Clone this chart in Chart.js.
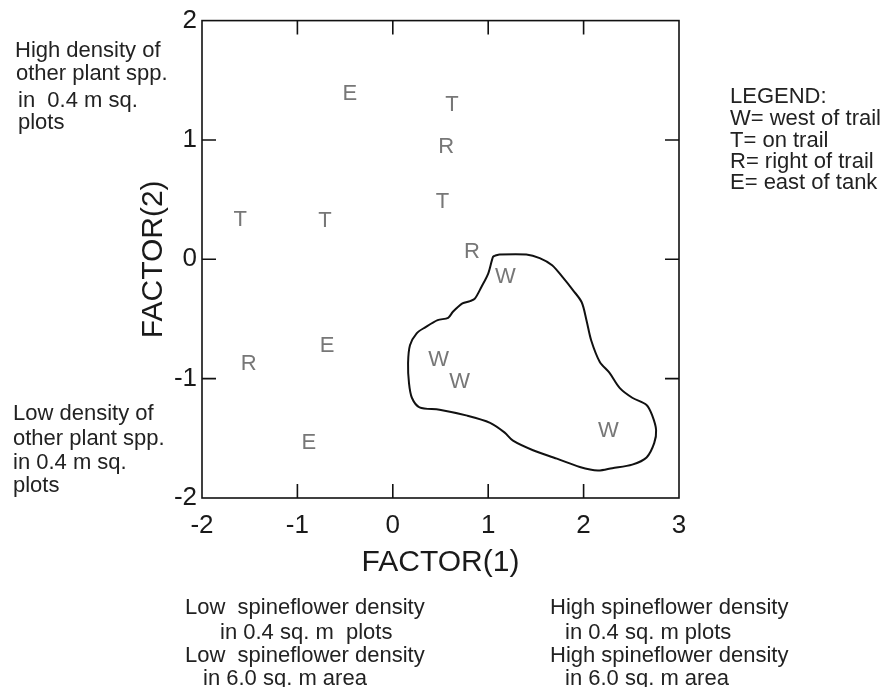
<!DOCTYPE html>
<html><head><meta charset="utf-8">
<script src="https://cdn.jsdelivr.net/npm/chart.js@4/dist/chart.umd.min.js"></script>
<style>
html,body{margin:0;padding:0;background:#fff;width:883px;height:687px;overflow:hidden}
#wrap{position:relative;width:883px;height:687px}
canvas{position:absolute;left:0;top:0}
.t{position:absolute;font-family:"Liberation Sans",Arial,sans-serif;color:#222;white-space:pre;line-height:24px;font-size:22px}
</style></head><body>
<div id="wrap"><canvas id="c" width="883" height="687"></canvas></div>
<script>
// ---- data ----
const siteCodes = ['E','T','R','T','T','T','R','W','E','R','W','W','W','E'];
const factor1   = [-0.45, 0.62, 0.56, 0.52, -1.60, -0.71, 0.83, 1.18, -0.69, -1.51, 0.48, 0.70, 2.26, -0.88];
const factor2   = [ 1.40, 1.31, 0.96, 0.50,  0.35,  0.34, 0.075, -0.13, -0.71, -0.86, -0.825, -1.01, -1.42, -1.52];

const contourX = [1.07,1.12,1.40,1.54,1.67,1.78,1.89,1.98,2.03,2.08,2.17,2.27,2.38,2.51,2.66,2.72,2.76,2.74,2.66,2.51,2.30,2.15,1.96,1.72,1.47,1.26,1.17,1.02,0.78,0.49,0.28,0.20,0.17,0.16,0.18,0.25,0.34,0.47,0.58,0.63,0.73,0.81,0.86,0.93,1.00,1.05,1.07];
const contourY = [0.03,0.04,0.04,0.01,-0.05,-0.15,-0.26,-0.36,-0.51,-0.68,-0.86,-0.95,-1.08,-1.16,-1.22,-1.31,-1.43,-1.54,-1.66,-1.72,-1.75,-1.77,-1.74,-1.67,-1.60,-1.52,-1.45,-1.37,-1.31,-1.26,-1.24,-1.16,-1.04,-0.87,-0.72,-0.62,-0.57,-0.51,-0.49,-0.44,-0.37,-0.35,-0.33,-0.23,-0.12,0.02,0.03];

const xAxisMin = -2, xAxisMax = 3, yAxisMin = -2, yAxisMax = 2;
const xTitle = 'FACTOR(1)';
const yTitle = 'FACTOR(2)';

const noteHighOther = ['High density of','other plant spp.','in  0.4 m sq.','plots'];
const noteLowOther  = ['Low density of','other plant spp.','in 0.4 m sq.','plots'];
const legendLines   = ['LEGEND:','W= west of trail','T= on trail','R= right of trail','E= east of tank'];
const noteLowSpine  = ['Low  spineflower density','in 0.4 sq. m  plots','Low  spineflower density','in 6.0 sq. m area'];
const noteHighSpine = ['High spineflower density','in 0.4 sq. m plots','High spineflower density','in 6.0 sq. m area'];

// ---- layout of notes (positions only) ----
const wrap = document.getElementById('wrap');
function placeNote(lines, pos){
  lines.forEach((txt,i)=>{
    const d = document.createElement('div');
    d.className='t';
    d.textContent = txt;
    d.style.left = pos[i][0]+'px';
    d.style.top = (pos[i][1]-12)+'px';
    wrap.appendChild(d);
  });
}
placeNote(noteHighOther, [[15,50],[16,73],[18,100],[18,122]]);
placeNote(noteLowOther,  [[13,413],[13,438],[13,462],[13,485]]);
placeNote(legendLines,   [[730,96],[730,118],[730,140],[730,161],[730,182]]);
placeNote(noteLowSpine,  [[185,607],[220,632],[185,655],[203,678]]);
placeNote(noteHighSpine, [[550,607],[565,632],[550,655],[565,678]]);

// ---- chart ----
const FONT = '"Liberation Sans", Arial, sans-serif';
const contourData = contourX.map((x,i)=>({x, y: contourY[i]}));
const pointData = factor1.map((x,i)=>({x, y: factor2[i]}));

const letterPlugin = {
  id:'letters',
  afterDatasetsDraw(chart){
    const meta = chart.getDatasetMeta(1);
    const ctx = chart.ctx;
    ctx.save();
    ctx.font = '22px ' + FONT;
    ctx.fillStyle = '#777';
    ctx.textAlign = 'center';
    ctx.textBaseline = 'alphabetic';
    meta.data.forEach((el,i)=>{ ctx.fillText(siteCodes[i], el.x, el.y + 8); });
    ctx.restore();
  }
};

const framePlugin = {
  id:'frame',
  afterDraw(chart){
    const {ctx, chartArea:a, scales:{x,y}} = chart;
    ctx.save();
    ctx.strokeStyle = '#111';
    ctx.lineWidth = 1.6;
    ctx.strokeRect(a.left, a.top, a.right-a.left, a.bottom-a.top);
    const L = 14;
    ctx.beginPath();
    x.ticks.forEach(t=>{
      const px = x.getPixelForValue(t.value);
      if (px <= a.left+1 || px >= a.right-1) return;
      ctx.moveTo(px, a.bottom); ctx.lineTo(px, a.bottom-L);
      ctx.moveTo(px, a.top); ctx.lineTo(px, a.top+L);
    });
    y.ticks.forEach(t=>{
      const py = y.getPixelForValue(t.value);
      if (py <= a.top+1 || py >= a.bottom-1) return;
      ctx.moveTo(a.left, py); ctx.lineTo(a.left+L, py);
      ctx.moveTo(a.right, py); ctx.lineTo(a.right-L, py);
    });
    ctx.stroke();
    ctx.restore();
  }
};

new Chart(document.getElementById('c'), {
  type: 'scatter',
  data: {
    datasets: [
      { data: contourData, showLine: true, borderColor: '#111', borderWidth: 2, pointRadius: 0, fill: false, tension: 0.3 },
      { data: pointData, showLine: false, pointRadius: 0, borderWidth: 0 }
    ]
  },
  options: {
    responsive: false,
    animation: false,
    devicePixelRatio: 1,
    layout: { padding: { left: 136, right: 204, top: 19, bottom: 106 } },
    plugins: { legend: { display: false }, tooltip: { enabled: false } },
    scales: {
      x: {
        type: 'linear', min: xAxisMin, max: xAxisMax,
        grid: { display: false, drawTicks: false },
        border: { display: false },
        ticks: { stepSize: 1, color: '#1a1a1a', font: { family: FONT, size: 26 }, padding: 12 },
        title: { display: true, text: xTitle, color: '#1a1a1a', font: { family: FONT, size: 30 }, padding: 0 },
        afterFit(s){ s.height = 83; }
      },
      y: {
        type: 'linear', min: yAxisMin, max: yAxisMax,
        grid: { display: false, drawTicks: false },
        border: { display: false },
        ticks: { stepSize: 1, color: '#1a1a1a', font: { family: FONT, size: 26 }, padding: 5 },
        title: { display: true, text: yTitle, color: '#1a1a1a', font: { family: FONT, size: 30 }, padding: 0 },
        afterFit(s){ s.width = 66; }
      }
    }
  },
  plugins: [letterPlugin, framePlugin]
});
</script>
</body></html>
